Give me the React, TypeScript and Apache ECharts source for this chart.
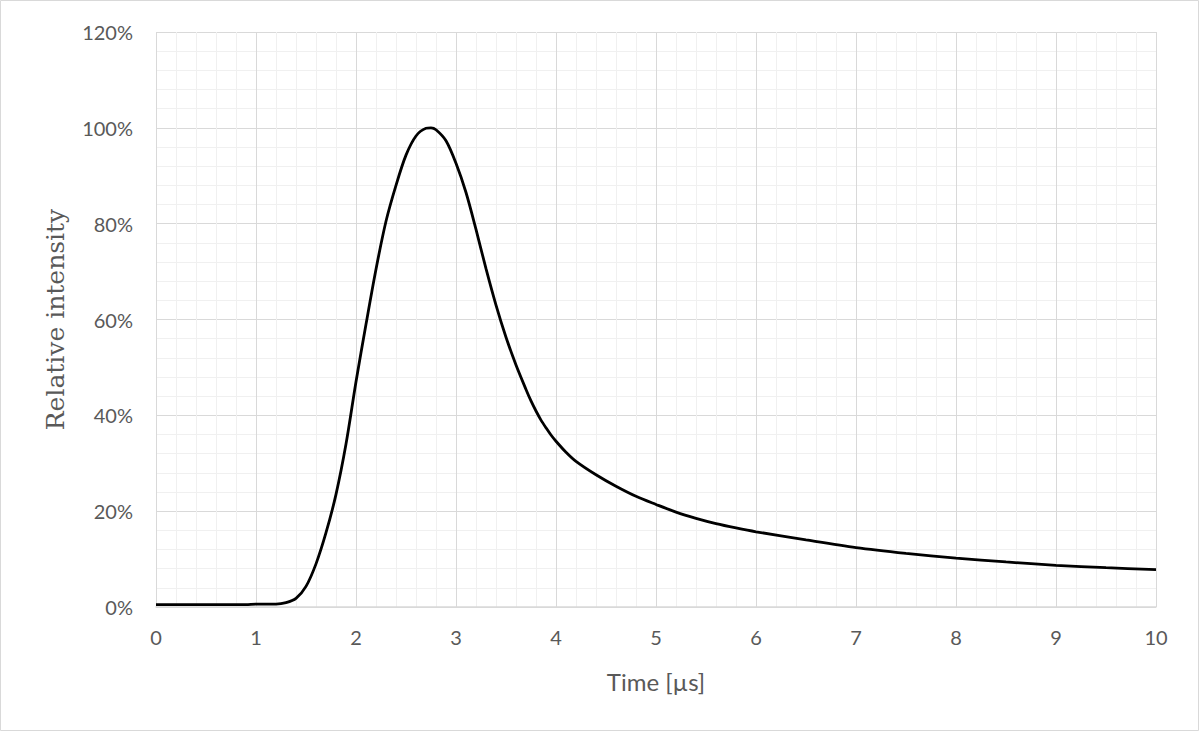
import React, { useEffect, useRef } from "react";
import * as echarts from "echarts";

const timeUs = [
  0, 0.1, 0.2, 0.3, 0.4, 0.5, 0.6, 0.7, 0.8, 0.9, 1.0, 1.1, 1.2, 1.3, 1.4, 1.5, 1.6, 1.7, 1.8, 1.9,
  2.0, 2.1, 2.2, 2.3, 2.4, 2.5, 2.6, 2.7, 2.75, 2.8, 2.9, 3.0, 3.1, 3.2, 3.3, 3.4, 3.5, 3.6, 3.7,
  3.75, 3.8, 3.85, 3.9, 3.95, 4.0, 4.1, 4.2, 4.4, 4.6, 4.8, 5.0, 5.2, 5.4, 5.6, 5.8, 6.0, 6.5, 7.0,
  7.5, 8.0, 8.5, 9.0, 9.5, 10.0,
];
const intensityPct = [
  0.5, 0.5, 0.5, 0.5, 0.5, 0.5, 0.5, 0.5, 0.5, 0.5, 0.6, 0.6, 0.6, 0.9, 1.8, 4.3, 9.0, 15.5, 23.5,
  34, 47, 59, 70.5, 80.5, 88, 94.3, 98.3, 99.9, 100, 99.6, 97.3, 92.6, 86.5, 78.8, 70.6, 63, 56.3,
  50.5, 45.4, 43, 40.9, 39, 37.4, 35.9, 34.6, 32.3, 30.4, 27.6, 25.2, 23.1, 21.4, 19.8, 18.5, 17.4,
  16.5, 15.7, 14, 12.4, 11.2, 10.2, 9.4, 8.7, 8.2, 7.8,
];
const xTicks = [0, 10, 1];
const yTicks = [0, 120, 20];

export default function App() {
  const ref = useRef<HTMLDivElement>(null);
  useEffect(() => {
    if (!ref.current) return;
    const chart = echarts.init(ref.current, null, { renderer: "svg" });
    const data = timeUs.map((t, i) => [t, intensityPct[i]]);
    chart.setOption({
      animation: false,
      backgroundColor: "#ffffff",
      graphic: [
        {
          type: "rect",
          shape: { x: 0.5, y: 0.5, width: 1198, height: 730 },
          style: { fill: "none", stroke: "#d9d9d9", lineWidth: 1 },
          silent: true,
        },
      ],
      grid: { left: 156, right: 44, top: 32, bottom: 125, containLabel: false },
      xAxis: {
        type: "value",
        min: xTicks[0],
        max: xTicks[1],
        interval: xTicks[2],
        name: "Time [µs]",
        nameLocation: "middle",
        nameGap: 62,
        nameTextStyle: { fontFamily: "Lato", fontSize: 24, color: "#595959" },
        axisLine: { show: true, lineStyle: { color: "#d9d9d9", width: 1.5 } },
        axisTick: { show: false },
        axisLabel: { fontFamily: "Lato", fontSize: 20, color: "#595959", margin: 20 },
        splitLine: { show: true, lineStyle: { color: "#d9d9d9", width: 1 } },
        minorTick: { show: false, splitNumber: 5 },
        minorSplitLine: { show: true, lineStyle: { color: "#f0f0f0", width: 1 } },
      },
      yAxis: {
        type: "value",
        min: yTicks[0],
        max: yTicks[1],
        interval: yTicks[2],
        name: "Relative intensity",
        nameLocation: "middle",
        nameGap: 88,
        nameTextStyle: { fontFamily: "DejaVu Serif", fontSize: 25, color: "#595959" },
        axisLine: { show: false },
        axisTick: { show: false },
        axisLabel: {
          fontFamily: "Lato",
          fontSize: 20,
          color: "#595959",
          margin: 23,
          formatter: "{value}%",
        },
        splitLine: { show: true, lineStyle: { color: "#d9d9d9", width: 1 } },
        minorTick: { show: false, splitNumber: 5 },
        minorSplitLine: { show: true, lineStyle: { color: "#f0f0f0", width: 1 } },
      },
      series: [
        {
          type: "line",
          data,
          showSymbol: false,
          smooth: 0.3,
          lineStyle: { color: "#000000", width: 2.8 },
          z: 5,
        },
      ],
    });
    return () => chart.dispose();
  }, []);
  return (
    <div
      ref={ref}
      style={{ position: "fixed", left: 0, top: 0, width: 1200, height: 732 }}
    />
  );
}
